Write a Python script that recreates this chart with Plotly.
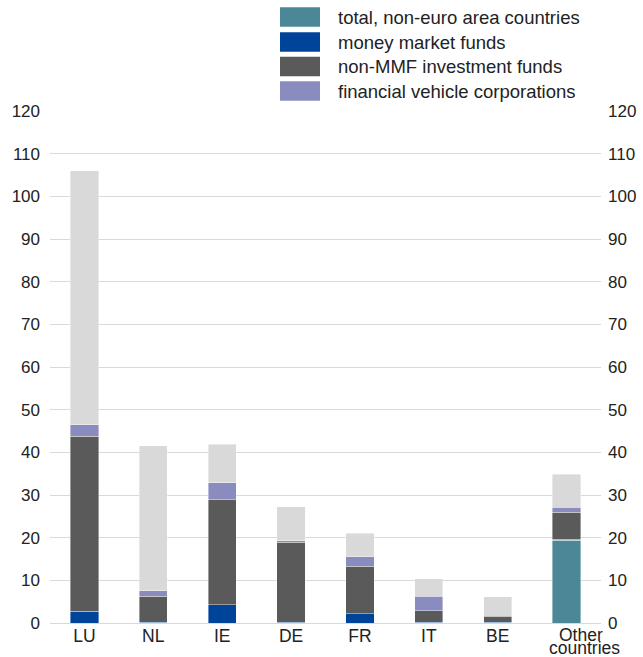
import plotly.graph_objects as go

categories = ["LU", "NL", "IE", "DE", "FR", "IT", "BE", "Other countries"]
non_euro_total = [0, 0, 0, 0, 0, 0, 0, 19.4]
money_market_funds = [2.7, 0.2, 4.3, 0.15, 2.2, 0.15, 0.15, 0.25]
non_mmf_investment_funds = [41.1, 6.05, 24.6, 18.75, 11.1, 2.75, 1.4, 6.35]
financial_vehicle_corps = [2.7, 1.35, 4.0, 0.35, 2.2, 3.35, 0.25, 1.1]
other_remainder = [59.5, 34.0, 9.0, 7.95, 5.5, 4.15, 4.3, 7.8]

y_ticks = list(range(0, 121, 10))

legend_names = [
    "total, non-euro area countries",
    "money market funds",
    "non-MMF investment funds",
    "financial vehicle corporations",
]
colors = ["#4B8796", "#00449A", "#5A5A5A", "#8A8CBF"]
rest_color = "#D9D9D9"

fig = go.Figure()
series = [non_euro_total, money_market_funds, non_mmf_investment_funds, financial_vehicle_corps]
for name, vals, col in zip(legend_names, series, colors):
    fig.add_trace(go.Bar(x=categories, y=vals, name=name, marker_color=col,
                         marker_line_color="white", marker_line_width=0.4,
                         showlegend=False))
fig.add_trace(go.Bar(x=categories, y=other_remainder, name="other", marker_color=rest_color,
                     marker_line_color="white", marker_line_width=0.4, showlegend=False))
# invisible trace to anchor right axis
fig.add_trace(go.Scatter(x=categories, y=[None] * len(categories), yaxis="y2",
                         showlegend=False, hoverinfo="skip"))

font_family = "Liberation Sans, Arial, sans-serif"
T, B, L, R = 111, 34, 50, 42
H = 657 - T - B
W = 643 - L - R

# multi-word category labels are drawn as tight two-line annotations
tick_text = [c if " " not in c else "" for c in categories]

fig.update_layout(
    barmode="stack",
    bargap=0.59,
    width=643, height=657,
    margin=dict(l=L, r=R, t=T, b=B, pad=0, autoexpand=False),
    plot_bgcolor="white", paper_bgcolor="white",
    font=dict(family=font_family, size=17, color="#222222"),
    xaxis=dict(showgrid=False, showline=False, ticks="", tickfont=dict(size=17.5),
               tickvals=categories, ticktext=tick_text,
               range=[-0.5, len(categories) - 0.5], autorange=False,
               ticklabelstandoff=0, zeroline=False, automargin=False),
    yaxis=dict(range=[0, 120], tickvals=y_ticks, showgrid=True, gridcolor="#D9D9D9",
               gridwidth=1, zeroline=True, zerolinecolor="#D9D9D9", zerolinewidth=1,
               showline=False, ticks="", ticklabelstandoff=9, tickfont=dict(size=17),
               automargin=False),
    yaxis2=dict(range=[0, 120], tickvals=y_ticks, overlaying="y", side="right",
                showgrid=False, zeroline=False, showline=False, ticks="",
                ticklabelstandoff=6, tickfont=dict(size=17), automargin=False),
)

for c in categories:
    if " " in c:
        words = c.split(" ", 1)
        for word, yc, xs in zip(words, [635, 648], [14, 18]):
            fig.add_annotation(xref="x", yref="paper", x=c, y=(657 - B - yc) / H,
                               text=word, showarrow=False, xanchor="center",
                               yanchor="middle", xshift=xs,
                               font=dict(size=17.5, color="#222222", family=font_family))

# manual legend
row_centers = [17, 42, 66.5, 91]
for name, col, yc in zip(legend_names, colors, row_centers):
    fig.add_shape(type="rect", xref="paper", yref="paper",
                  x0=(280 - L) / W, x1=(320 - L) / W,
                  y0=(657 - B - (yc + 9.75)) / H, y1=(657 - B - (yc - 9.75)) / H,
                  fillcolor=col, line=dict(width=0))
    fig.add_annotation(xref="paper", yref="paper", x=(336 - L) / W,
                       y=(657 - B - yc) / H, text=name, showarrow=False,
                       xanchor="left", yanchor="middle",
                       font=dict(size=18.5, color="#222222", family=font_family))

fig.write_html("out.html", config={"displayModeBar": False},
               post_script="document.body.style.margin='0';document.body.style.overflow='hidden';")
